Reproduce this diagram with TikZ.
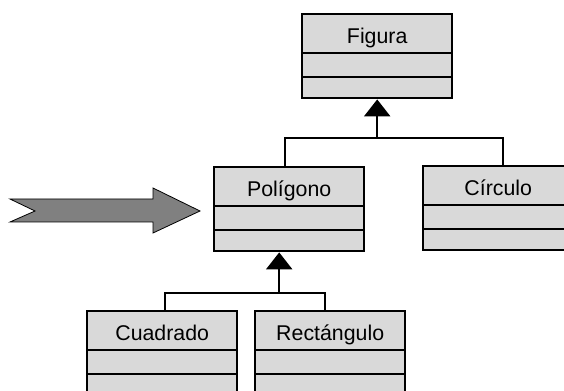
\documentclass[tikz,border=0pt]{standalone}
\usepackage{fontspec}
\setmainfont{Liberation Sans}
\usetikzlibrary{arrows.meta,calc}
\definecolor{boxgray}{HTML}{D9D9D9}
\definecolor{arrowgray}{HTML}{808080}
\tikzset{
  classbox/.style={draw=black, fill=boxgray, line width=1.8pt, minimum width=112.5pt, minimum height=63pt, inner sep=0pt, anchor=north west},
  classname/.style={anchor=base, font=\fontsize{16}{19}\selectfont, inner sep=0pt},
  divider/.style={line width=1.8pt},
  inh/.style={line width=1.8pt},
  inhtip/.style={line width=1.8pt, -{Triangle[width=19.5pt,length=12.75pt]}},
  bigarrow/.style={draw=black, fill=arrowgray, line width=0.6pt}
}
\newcommand\umlclass[4]{%
  \node[classbox] (#1) at (#2,#3) {};
  \draw[divider] ($(#1.north west)+(0,-30pt)$) -- ($(#1.north east)+(0,-30pt)$);
  \draw[divider] ($(#1.north west)+(0,-48pt)$) -- ($(#1.north east)+(0,-48pt)$);
  \node[classname] (#1-name) at ($(#1.north)+(0,-23.25pt)$) {#4};
}
\begin{document}
\begin{tikzpicture}[x=0.75pt, y=-0.75pt]
\useasboundingbox (0,0) rectangle (564,391);
\fill[white] (0,0) rectangle (564,391);
\clip (0,0) rectangle (564,391);

\umlclass{fig}{301}{13}{Figura}
\umlclass{poly}{213}{166}{Polígono}
\umlclass{circ}{422}{165}{Círculo}
\umlclass{cuad}{86}{310}{Cuadrado}
\umlclass{rect}{254}{310}{Rectángulo}

\path (0,138) coordinate (h1);
\path (0,293) coordinate (h2);
\coordinate (pa) at ([xshift=-3pt]poly.north);
\coordinate (ca) at ([xshift=3.75pt]circ.north);
\coordinate (qa) at ([xshift=2.25pt]cuad.north);
\coordinate (ra) at ([xshift=-3.75pt]rect.north);
\coordinate (pb) at ([xshift=-7.5pt]poly.south);

\draw[inh] (pa) -- (pa |- h1) -- (ca |- h1) -- (ca);
\draw[inhtip] (fig.south |- h1) -- (fig.south);

\draw[inh] (qa) -- (qa |- h2) -- (ra |- h2) -- (ra);
\draw[inhtip] (pb |- h2) -- (pb);

\draw[bigarrow] (10,199) -- (153,199) -- (153,188) -- (200,211) -- (153,233) -- (153,222) -- (10,222) -- (35,211) -- cycle;
\end{tikzpicture}
\end{document}
